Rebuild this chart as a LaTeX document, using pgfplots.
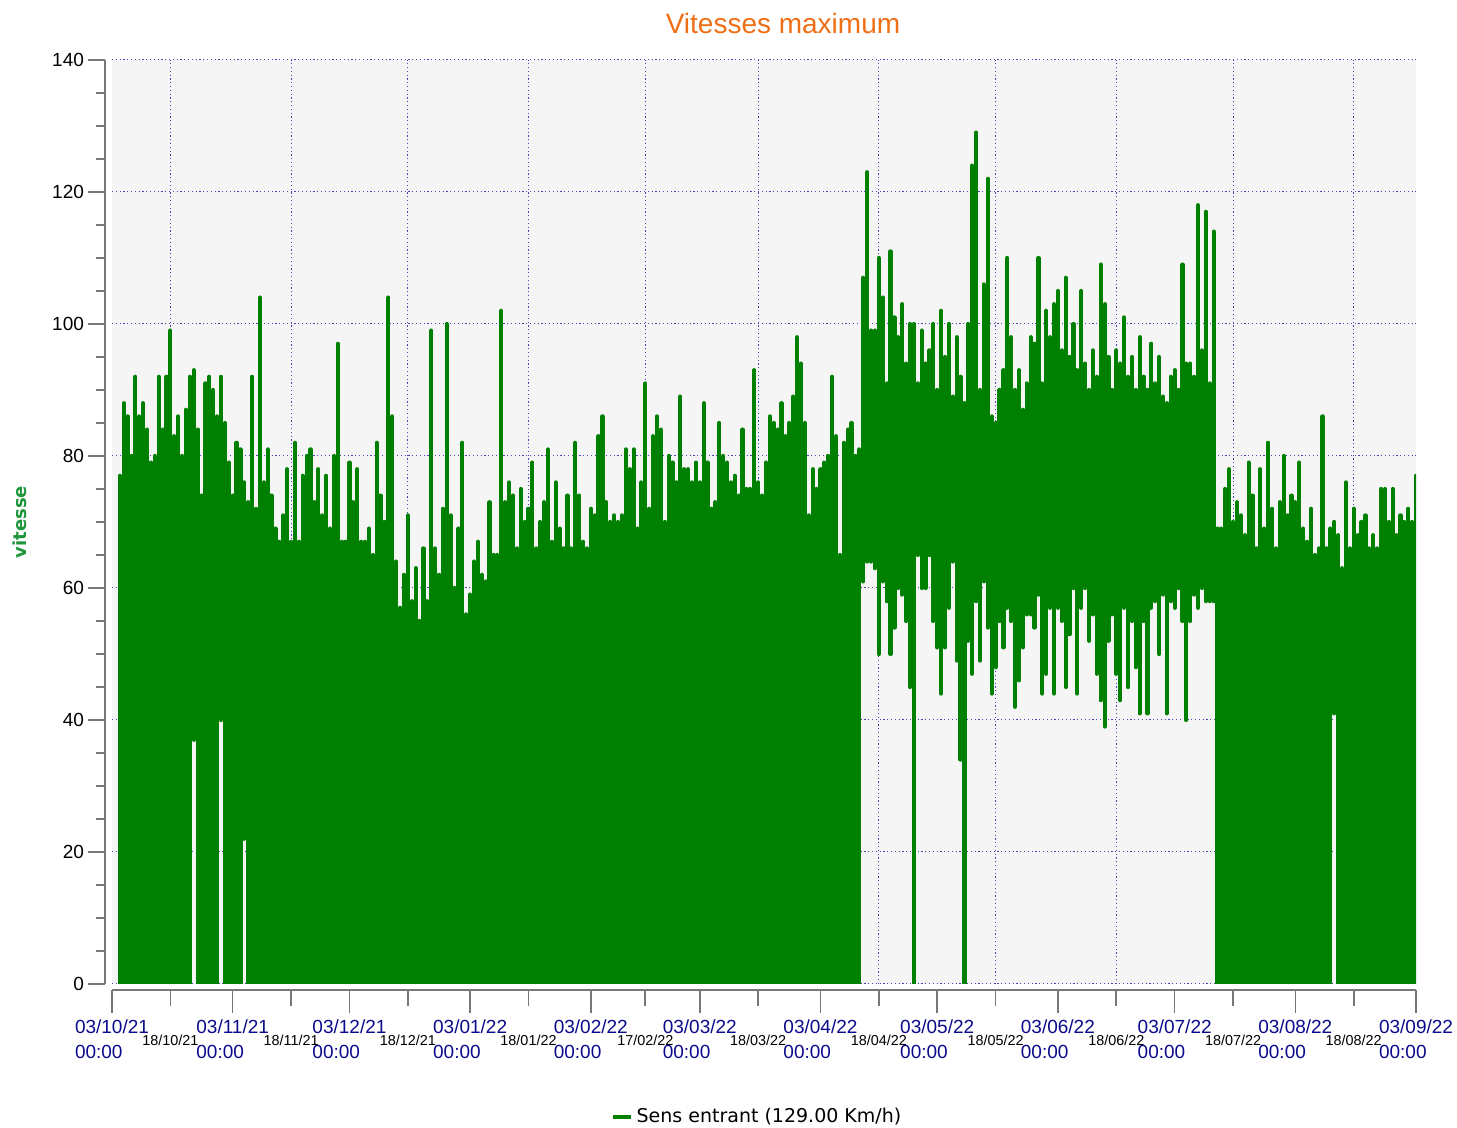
\documentclass[border=0pt]{standalone}
\usepackage{pgfplots}
\usepackage{pgfplotstable}
\pgfplotsset{compat=1.18}
\usepackage{fontspec}
\setmainfont{Liberation Sans}
\newfontfamily\dejavu{DejaVu Sans}
\definecolor{dgreen}{RGB}{0,128,0}
\definecolor{lblgreen}{RGB}{30,150,60}
\definecolor{bggrey}{RGB}{245,245,245}
\definecolor{gridblue}{RGB}{70,70,190}
\definecolor{navylbl}{RGB}{10,10,140}
\definecolor{axgrey}{RGB}{120,120,120}
\definecolor{ttlorange}{RGB}{240,110,20}

\pgfplotstableread[row sep=\\]{
d hi lo \\
2 77 0 \\ 3 88 0 \\ 4 86 0 \\ 5 80 0 \\ 6 92 0 \\ 7 86 0 \\ 8 88 0 \\ 9 84 0 \\ 10 79 0 \\
11 80 0 \\ 12 92 0 \\ 13 84 0 \\ 14 92 0 \\ 15 99 0 \\ 16 83 0 \\ 17 86 0 \\ 18 80 0 \\ 19 87 0 \\ 20 92 0 \\
21 93 37 \\ 22 84 0 \\ 23 74 0 \\ 24 91 0 \\ 25 92 0 \\ 26 90 0 \\ 27 86 0 \\ 28 92 40 \\ 29 85 0 \\ 30 79 0 \\
31 74 0 \\ 32 82 0 \\ 33 81 0 \\ 34 76 22 \\ 35 73 0 \\ 36 92 0 \\ 37 72 0 \\ 38 104 0 \\ 39 76 0 \\ 40 81 0 \\
41 74 0 \\ 42 69 0 \\ 43 67 0 \\ 44 71 0 \\ 45 78 0 \\ 46 67 0 \\ 47 82 0 \\ 48 67 0 \\ 49 77 0 \\ 50 80 0 \\
51 81 0 \\ 52 73 0 \\ 53 78 0 \\ 54 71 0 \\ 55 77 0 \\ 56 69 0 \\ 57 80 0 \\ 58 97 0 \\ 59 67 0 \\ 60 67 0 \\
61 79 0 \\ 62 73 0 \\ 63 78 0 \\ 64 67 0 \\ 65 67 0 \\ 66 69 0 \\ 67 65 0 \\ 68 82 0 \\ 69 74 0 \\ 70 70 0 \\
71 104 0 \\ 72 86 0 \\ 73 64 0 \\ 74 57 0 \\ 75 62 0 \\ 76 71 0 \\ 77 58 0 \\ 78 63 0 \\ 79 55 0 \\ 80 66 0 \\
81 58 0 \\ 82 99 0 \\ 83 66 0 \\ 84 62 0 \\ 85 72 0 \\ 86 100 0 \\ 87 71 0 \\ 88 60 0 \\ 89 69 0 \\ 90 82 0 \\
91 56 0 \\ 92 59 0 \\ 93 64 0 \\ 94 67 0 \\ 95 62 0 \\ 96 61 0 \\ 97 73 0 \\ 98 65 0 \\ 99 65 0 \\ 100 102 0 \\
101 73 0 \\ 102 76 0 \\ 103 74 0 \\ 104 66 0 \\ 105 75 0 \\ 106 70 0 \\ 107 72 0 \\ 108 79 0 \\ 109 66 0 \\ 110 70 0 \\
111 73 0 \\ 112 81 0 \\ 113 67 0 \\ 114 76 0 \\ 115 69 0 \\ 116 66 0 \\ 117 74 0 \\ 118 66 0 \\ 119 82 0 \\ 120 74 0 \\
121 67 0 \\ 122 66 0 \\ 123 72 0 \\ 124 71 0 \\ 125 83 0 \\ 126 86 0 \\ 127 73 0 \\ 128 70 0 \\ 129 71 0 \\ 130 70 0 \\
131 71 0 \\ 132 81 0 \\ 133 78 0 \\ 134 81 0 \\ 135 69 0 \\ 136 76 0 \\ 137 91 0 \\ 138 72 0 \\ 139 83 0 \\ 140 86 0 \\
141 84 0 \\ 142 70 0 \\ 143 80 0 \\ 144 79 0 \\ 145 76 0 \\ 146 89 0 \\ 147 78 0 \\ 148 78 0 \\ 149 76 0 \\ 150 79 0 \\
151 76 0 \\ 152 88 0 \\ 153 79 0 \\ 154 72 0 \\ 155 73 0 \\ 156 85 0 \\ 157 80 0 \\ 158 79 0 \\ 159 76 0 \\ 160 77 0 \\
161 74 0 \\ 162 84 0 \\ 163 75 0 \\ 164 75 0 \\ 165 93 0 \\ 166 76 0 \\ 167 74 0 \\ 168 79 0 \\ 169 86 0 \\ 170 85 0 \\
171 84 0 \\ 172 88 0 \\ 173 83 0 \\ 174 85 0 \\ 175 89 0 \\ 176 98 0 \\ 177 94 0 \\ 178 85 0 \\ 179 71 0 \\ 180 78 0 \\
181 75 0 \\ 182 78 0 \\ 183 79 0 \\ 184 80 0 \\ 185 92 0 \\ 186 83 0 \\ 187 65 0 \\ 188 82 0 \\ 189 84 0 \\ 190 85 0 \\
191 80 0 \\ 192 81 0 \\
193 107 61 \\ 194 123 64 \\ 195 99 64 \\ 196 99 63 \\ 197 110 50 \\ 198 104 61 \\ 199 91 58 \\ 200 111 50 \\
201 101 54 \\ 202 98 60 \\ 203 103 59 \\ 204 94 55 \\ 205 100 45 \\ 206 100 0 \\ 207 91 65 \\ 208 99 60 \\ 209 94 60 \\ 210 96 65 \\
211 100 55 \\ 212 90 51 \\ 213 102 44 \\ 214 95 51 \\ 215 100 57 \\ 216 89 64 \\ 217 98 49 \\ 218 92 34 \\ 219 88 0 \\ 220 100 52 \\
221 124 47 \\ 222 129 58 \\ 223 90 49 \\ 224 106 61 \\ 225 122 54 \\ 226 86 44 \\ 227 85 48 \\ 228 90 55 \\ 229 93 51 \\ 230 110 57 \\
231 98 55 \\ 232 90 42 \\ 233 93 46 \\ 234 87 51 \\ 235 91 56 \\ 236 98 56 \\ 237 97 54 \\ 238 110 59 \\ 239 91 44 \\ 240 102 47 \\
241 98 57 \\ 242 103 44 \\ 243 105 57 \\ 244 96 55 \\ 245 107 45 \\ 246 95 53 \\ 247 100 60 \\ 248 93 44 \\ 249 105 57 \\ 250 94 60 \\
251 90 52 \\ 252 96 56 \\ 253 92 47 \\ 254 109 43 \\ 255 103 39 \\ 256 95 52 \\ 257 90 56 \\ 258 96 47 \\ 259 94 43 \\ 260 101 57 \\
261 92 45 \\ 262 95 55 \\ 263 90 48 \\ 264 98 41 \\ 265 92 55 \\ 266 90 41 \\ 267 97 57 \\ 268 91 58 \\ 269 95 50 \\ 270 89 59 \\
271 88 41 \\ 272 92 58 \\ 273 93 57 \\ 274 90 60 \\ 275 109 55 \\ 276 94 40 \\ 277 94 55 \\ 278 92 59 \\ 279 118 57 \\ 280 96 60 \\
281 117 58 \\ 282 91 58 \\ 283 114 58 \\
284 69 0 \\ 285 69 0 \\ 286 75 0 \\ 287 78 0 \\ 288 70 0 \\ 289 73 0 \\ 290 71 0 \\
291 68 0 \\ 292 79 0 \\ 293 74 0 \\ 294 66 0 \\ 295 78 0 \\ 296 69 0 \\ 297 82 0 \\ 298 72 0 \\ 299 66 0 \\ 300 73 0 \\
301 80 0 \\ 302 71 0 \\ 303 74 0 \\ 304 73 0 \\ 305 79 0 \\ 306 69 0 \\ 307 67 0 \\ 308 72 0 \\ 309 65 0 \\ 310 66 0 \\
311 86 0 \\ 312 66 0 \\ 313 69 0 \\ 314 70 41 \\ 315 68 0 \\ 316 63 0 \\ 317 76 0 \\ 318 66 0 \\ 319 72 0 \\ 320 68 0 \\
321 70 0 \\ 322 71 0 \\ 323 66 0 \\ 324 68 0 \\ 325 66 0 \\ 326 75 0 \\ 327 75 0 \\ 328 70 0 \\ 329 75 0 \\ 330 68 0 \\
331 71 0 \\ 332 70 0 \\ 333 72 0 \\ 334 70 0 \\ 335 77 0 \\
}\vdata

\begin{document}
\begin{tikzpicture}
\useasboundingbox (-56pt,-72pt) rectangle (672.5pt,492pt);
\begin{axis}[
  at={(0,0)}, anchor=south west,
  scale only axis, width=652pt, height=462pt,
  xmin=0, xmax=335, ymin=0, ymax=140,
  axis background/.style={fill=bggrey},
  axis lines=left,
  axis line style={-, draw=axgrey, line width=0.9pt},
  x axis line style={yshift=-3pt},
  y axis line style={xshift=-3.5pt},
  tick align=outside,
  major tick length=8.5pt, minor tick length=4.5pt,
  every tick/.style={axgrey, line width=0.8pt},
  xtick style={yshift=-3pt, yscale=1.353},
  ytick style={xshift=-3.5pt},
  ytick={0,20,...,140}, minor y tick num=3,
  ymajorgrids,
  grid style={gridblue, line width=0.5pt, dash pattern=on 0.6pt off 1.3pt},
  yticklabel style={font=\fontsize{9.5}{11}\selectfont, text=black, xshift=-2pt},
  /pgf/number format/assume math mode=true,
  xtick={0,31,61,92,123,151,182,212,243,273,304,335},
  xticklabels={{03/10/21\\00:00},{03/11/21\\00:00},{03/12/21\\00:00},{03/01/22\\00:00},{03/02/22\\00:00},{03/03/22\\00:00},{03/04/22\\00:00},{03/05/22\\00:00},{03/06/22\\00:00},{03/07/22\\00:00},{03/08/22\\00:00},{03/09/22\\00:00}},
  xticklabel style={align=left, text=navylbl, font=\fontsize{9.5}{12.5}\selectfont, anchor=north, yshift=-6pt},
  extra x ticks={15,46,76,107,137,166,197,227,258,288,319},
  extra x tick labels={18/10/21,18/11/21,18/12/21,18/01/22,17/02/22,18/03/22,18/04/22,18/05/22,18/06/22,18/07/22,18/08/22},
  extra x tick style={grid=major, major tick length=5.9pt,
     xticklabel style={align=center, text=black, font=\fontsize{7.2}{8}\selectfont, anchor=north, yshift=-10pt}},
  ylabel={vitesse},
  every axis y label/.style={at={(axis description cs:0,0.5)}, xshift=-46pt, rotate=90, anchor=center,
     font=\dejavu\bfseries\fontsize{9}{11}\selectfont, text=lblgreen},
  title={Vitesses maximum},
  every axis title/.style={at={(axis description cs:0.5,1)}, anchor=center, yshift=18pt, xshift=9.5pt,
     font=\fontsize{14}{16}\selectfont, text=ttlorange},
  legend style={at={(axis description cs:0.5,0)}, anchor=center, yshift=-66.5pt, xshift=-3pt,
     draw=none, fill=none, font=\dejavu\fontsize{9.5}{11}\selectfont},
]
\addplot[draw=none, mark=none, forget plot,
  error bars/.cd, y dir=minus, y explicit, error mark=none,
  error bar style={draw=dgreen, line width=2.1pt, line cap=round}]
  table[x=d, y=hi, y error minus expr=\thisrow{hi}-\thisrow{lo}] {\vdata};
\addlegendimage{dgreen, line width=2pt, legend image code/.code={\draw[dgreen, line width=2pt] (0pt,0pt) -- (9pt,0pt);}}
\addlegendentry{Sens entrant (129.00 Km/h)}
\end{axis}
\end{tikzpicture}
\end{document}
